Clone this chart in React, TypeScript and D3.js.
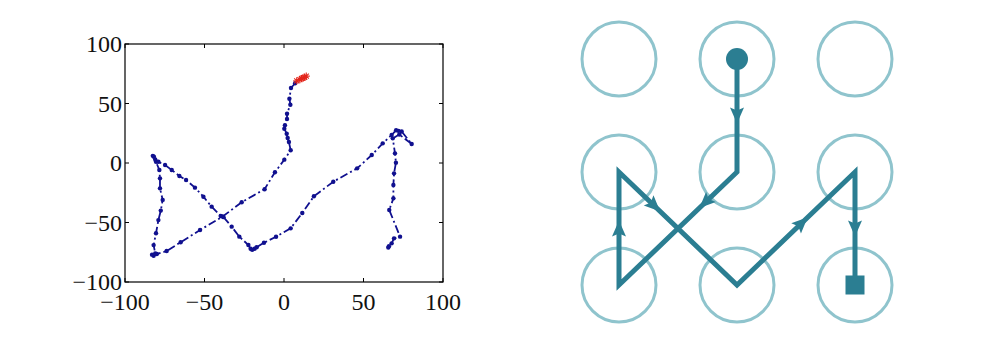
import React from "react";
import * as d3 from "d3";

// ---------- Left chart data ----------
const xTicks = [-100, -50, 0, 50, 100];
const yTicks = [-100, -50, 0, 50, 100];
const tickLabels = ["\u2212100", "\u221250", "0", "50", "100"];

const redStars: [number, number][] = [
  [8, 69], [10, 70], [11, 71], [12, 71.5], [13, 72], [14, 73],
];

const trajX = [
  7, 4.4, 3.4, 4, 1.9, 1.9, 0.6, 0.2, 1.7, 2.3, 3.1, 4.2, 0.2, -5.7, -12.2, -26.6, -38.6, -52.8, -65, -73.8,
  -80, -82, -83, -81, -82, -80.5, -79, -77.5, -76.3, -78, -78, -78.4, -80.5, -81.8, -82.5, -81, -79, -74.8,
  -70.6, -65.8, -61.6, -56, -50.7, -45.5, -39.8, -38, -32.9, -28.1, -22.4, -21, -20, -18.5, -17.2, -12.6, -5,
  4.2, 11.5, 18.8, 31, 46, 55.2, 62.1, 67.7, 70.5, 72, 74, 80.3, 72.5, 68.4, 69.8, 70.4, 69.2, 68.8, 68.8,
  66.2, 73, 69.2, 67.7, 66, 65.6,
];
const trajY = [
  67, 63, 54, 49, 41.4, 37, 31.7, 28.8, 24.6, 21, 17.6, 10.7, 2.8, -7.8, -22, -33, -45, -56.3, -66.6, -74,
  -76.5, -78, -77, -76, -69, -59, -48, -40, -31, -21.3, -12.9, -5.9, 1, 5.3, 6, 3, 1, -1.7,
  -5.9, -10.9, -14.3, -20.7, -28.3, -36.7, -44.5, -45.5, -53.5, -61.9, -68.9, -72, -73, -72, -70.8, -67, -62,
  -54.9, -42, -28, -15.7, -4.5, 6.7, 16.5, 23.5, 27.5, 27, 26.5, 16, 24, 20.7, 8.1, 0.3, -8.7, -18.5, -29.7,
  -39.5, -61.9, -63.3, -67.5, -70, -71,
];

// ---------- Right diagram data ----------
const gridCols = [0, 1, 2];
const gridRows = [0, 1, 2];
const patternPath: [number, number][] = [
  [1, 0], [1, 1], [0, 2], [0, 1], [1, 2], [2, 1], [2, 2],
];
const arrowFractions = [0.5, 0.27, 0.5, 0.3, 0.55, 0.5];

const BLUE = "#10108f";
const TEAL = "#2b7e92";
const LIGHT = "#8fc4cd";
const FONT = "'Liberation Serif', 'Times New Roman', Times, serif";

export default function App() {
  const x = d3.scaleLinear().domain([-100, 100]).range([125, 443]);
  const y = d3.scaleLinear().domain([-100, 100]).range([282, 44]);
  const pts = trajX.map((v, i) => [v, trajY[i]] as [number, number]);
  const line = d3
    .line<[number, number]>()
    .x((d) => x(d[0]))
    .y((d) => y(d[1]));

  const gx = d3.scaleLinear().domain([0, 2]).range([619, 855]);
  const gy = d3.scaleLinear().domain([0, 2]).range([59, 285]);
  const pLine = d3
    .line<[number, number]>()
    .x((d) => gx(d[0]))
    .y((d) => gy(d[1]));

  const tickLen = 4;
  const [x0, x1] = x.range();
  const [y0, y1] = y.range();

  const start = patternPath[0];
  const end = patternPath[patternPath.length - 1];

  return (
    <svg
      width={984}
      height={341}
      style={{ position: "absolute", left: 0, top: 0, background: "#fff" }}
    >
      <rect x={0} y={0} width={984} height={341} fill="#fff" />
      {/* Left axes box */}
      <rect x={x0} y={y1} width={x1 - x0} height={y0 - y1} fill="none" stroke="#000" strokeWidth={1.2} />
      {xTicks.map((t) => (
        <g key={"xt" + t}>
          <line x1={x(t)} x2={x(t)} y1={y0} y2={y0 - tickLen} stroke="#000" />
          <line x1={x(t)} x2={x(t)} y1={y1} y2={y1 + tickLen} stroke="#000" />
        </g>
      ))}
      {yTicks.map((t) => (
        <g key={"yt" + t}>
          <line x1={x0} x2={x0 + tickLen} y1={y(t)} y2={y(t)} stroke="#000" />
          <line x1={x1} x2={x1 - tickLen} y1={y(t)} y2={y(t)} stroke="#000" />
        </g>
      ))}
      {xTicks.map((t, i) => (
        <text
          key={"xl" + t}
          x={x(t)}
          y={310}
          textAnchor="middle"
          fontFamily={FONT}
          fontSize={24}
          fill="#111"
        >
          {tickLabels[i]}
        </text>
      ))}
      {yTicks.map((t, i) => (
        <text
          key={"yl" + t}
          x={122}
          y={y(t)}
          dy="0.34em"
          textAnchor="end"
          fontFamily={FONT}
          fontSize={24}
          fill="#111"
        >
          {tickLabels[i]}
        </text>
      ))}
      {/* trajectory */}
      <path
        d={line(pts) || ""}
        fill="none"
        stroke={BLUE}
        strokeWidth={1.8}
        strokeDasharray="8,3,2,3"
      />
      {pts.map((p, i) => (
        <circle key={"p" + i} cx={x(p[0])} cy={y(p[1])} r={2.2} fill={BLUE} />
      ))}
      {redStars.map((p, i) => {
        const cx = x(p[0]);
        const cy = y(p[1]);
        const s = 3.6;
        return (
          <g key={"s" + i} stroke="#e3251b" strokeWidth={1.1}>
            <line x1={cx - s} x2={cx + s} y1={cy} y2={cy} />
            <line x1={cx} x2={cx} y1={cy - s} y2={cy + s} />
            <line x1={cx - s * 0.7} x2={cx + s * 0.7} y1={cy - s * 0.7} y2={cy + s * 0.7} />
            <line x1={cx - s * 0.7} x2={cx + s * 0.7} y1={cy + s * 0.7} y2={cy - s * 0.7} />
          </g>
        );
      })}

      {/* Right diagram: circles */}
      {gridRows.map((r) =>
        gridCols.map((c) => (
          <circle
            key={"c" + r + c}
            cx={gx(c)}
            cy={gy(r)}
            r={37}
            fill="none"
            stroke={LIGHT}
            strokeWidth={3}
          />
        ))
      )}
      <path
        d={pLine(patternPath) || ""}
        fill="none"
        stroke={TEAL}
        strokeWidth={5}
        strokeLinejoin="miter"
        strokeMiterlimit={10}
      />
      {arrowFractions.map((f, i) => {
        const a = patternPath[i];
        const b = patternPath[i + 1];
        const ax = gx(a[0]), ay = gy(a[1]), bx = gx(b[0]), by = gy(b[1]);
        const px = ax + (bx - ax) * f;
        const py = ay + (by - ay) * f;
        const ang = (Math.atan2(by - ay, bx - ax) * 180) / Math.PI;
        return (
          <path
            key={"a" + i}
            d="M 8,0 L -8,-7 L -5,0 L -8,7 Z"
            fill={TEAL}
            transform={`translate(${px},${py}) rotate(${ang})`}
          />
        );
      })}
      <circle cx={gx(start[0])} cy={gy(start[1])} r={11} fill={TEAL} />
      <rect x={gx(end[0]) - 9.5} y={gy(end[1]) - 9.5} width={19} height={19} fill={TEAL} />
    </svg>
  );
}
